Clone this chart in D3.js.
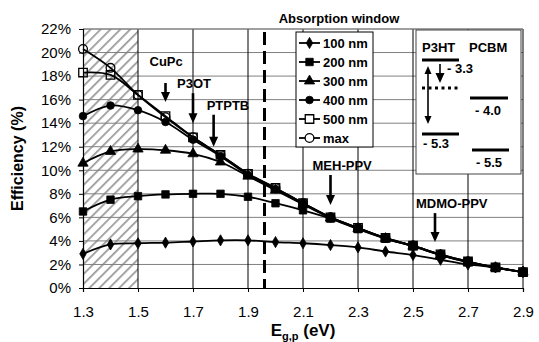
<!DOCTYPE html>
<html>
<head>
<meta charset="utf-8">
<script src="https://cdn.jsdelivr.net/npm/d3@7"></script>
<style>
  body { margin: 0; background: #fff; }
  svg { display: block; font-family: Arial, "Liberation Sans", sans-serif; }
</style>
</head>
<body>
<svg id="chart" width="539" height="342"></svg>
<script>
// band gap of the donor polymer (eV)
const gaps = [1.3, 1.4, 1.5, 1.6, 1.7, 1.8, 1.9, 2.0, 2.1, 2.2, 2.3, 2.4, 2.5, 2.6, 2.7, 2.8, 2.9];

const seriesNames = ["100 nm", "200 nm", "300 nm", "400 nm", "500 nm", "max"];

// efficiency (%) per absorption window
const eff100 = [2.9, 3.7, 3.8, 3.85, 3.95, 4.05, 4.05, 3.9, 3.8, 3.65, 3.45, 3.1, 2.8, 2.4, 2.0, 1.75, 1.35];
const eff200 = [6.5, 7.5, 7.8, 7.95, 8.0, 8.0, 7.75, 7.2, 6.6, 5.9, 5.0, 4.2, 3.55, 2.8, 2.2, 1.72, 1.35];
const eff300 = [10.6, 11.6, 11.8, 11.7, 11.4, 10.7, 9.5, 8.3, 7.1, 5.95, 5.05, 4.2, 3.55, 2.8, 2.2, 1.72, 1.35];
const eff400 = [14.6, 15.5, 15.1, 14.1, 12.6, 11.2, 9.6, 8.4, 7.2, 6.0, 5.1, 4.22, 3.57, 2.82, 2.22, 1.75, 1.35];
const eff500 = [18.3, 18.1, 16.4, 14.6, 12.8, 11.3, 9.7, 8.5, 7.2, 6.0, 5.1, 4.25, 3.6, 2.85, 2.25, 1.75, 1.35];
const effMax = [20.3, 18.7, 16.4, 14.5, 12.8, 11.3, 9.7, 8.5, 7.2, 6.0, 5.1, 4.25, 3.6, 2.85, 2.25, 1.75, 1.35];

const yTicks = [0, 2, 4, 6, 8, 10, 12, 14, 16, 18, 20, 22];
const xTicks = [1.3, 1.5, 1.7, 1.9, 2.1, 2.3, 2.5, 2.7, 2.9];

// known polymers: name, band gap, arrow tip (%)
const polyNames = ["CuPc", "P3OT", "PTPTB", "MEH-PPV", "MDMO-PPV"];
const polyGaps = [1.6, 1.7, 1.775, 2.2, 2.58];
const polyTips = [15.8, 14.0, 12.0, 7.05, 3.9];

const hatchRange = [1.3, 1.5];
const windowGap = 1.96;

const svg = d3.select("#chart");
const margin = { left: 83, right: 16, top: 29, bottom: 54 };
const width = 539 - margin.left - margin.right;
const height = 342 - margin.top - margin.bottom;

const x = d3.scaleLinear().domain([1.3, 2.9]).range([margin.left, margin.left + width]);
const y = d3.scaleLinear().domain([0, 22]).range([margin.top + height, margin.top]);

// hatch pattern for the shaded region
const defs = svg.append("defs");
defs.append("pattern")
  .attr("id", "hatch")
  .attr("width", 7)
  .attr("height", 7)
  .attr("patternUnits", "userSpaceOnUse")
  .attr("patternTransform", "rotate(45)")
  .append("line")
  .attr("x1", 0).attr("y1", 0).attr("x2", 0).attr("y2", 7)
  .attr("stroke", "#9a9a9a")
  .attr("stroke-width", 3.5);

svg.append("rect")
  .attr("x", x(hatchRange[0])).attr("y", y(22))
  .attr("width", x(hatchRange[1]) - x(hatchRange[0]))
  .attr("height", y(0) - y(22))
  .attr("fill", "url(#hatch)");

// gridlines
svg.append("g").selectAll("line").data(yTicks.filter((d) => d > 0)).join("line")
  .attr("x1", x(1.3)).attr("x2", x(2.9))
  .attr("y1", (d) => y(d)).attr("y2", (d) => y(d))
  .attr("stroke", "#808080").attr("stroke-width", 1);

svg.append("g").selectAll("line").data(xTicks.slice(1)).join("line")
  .attr("x1", (d) => x(d)).attr("x2", (d) => x(d))
  .attr("y1", y(0)).attr("y2", y(22))
  .attr("stroke", "#000").attr("stroke-width", 1);

// plot frame top
svg.append("line").attr("x1", x(1.3)).attr("x2", x(2.9)).attr("y1", y(22)).attr("y2", y(22))
  .attr("stroke", "#808080");

// axes
const yAxis = svg.append("g")
  .attr("transform", `translate(${x(1.3)},0)`)
  .call(d3.axisLeft(y).tickValues(yTicks).tickFormat((d) => d + "%").tickSize(4).tickPadding(8));
const xAxis = svg.append("g")
  .attr("transform", `translate(0,${y(0)})`)
  .call(d3.axisBottom(x).tickValues(xTicks).tickFormat(d3.format(".1f")).tickSize(4).tickPadding(14));
[yAxis, xAxis].forEach((a) => {
  a.selectAll("text").attr("font-size", 15).attr("fill", "#000")
    .attr("font-family", "Arial, 'Liberation Sans', sans-serif");
  a.selectAll("line").attr("stroke", "#000");
  a.select(".domain").attr("stroke", "#000").attr("stroke-width", 1.2);
});

// absorption window dashed line
svg.append("line")
  .attr("x1", x(windowGap)).attr("x2", x(windowGap))
  .attr("y1", y(22) + 3).attr("y2", y(0))
  .attr("stroke", "#000").attr("stroke-width", 3)
  .attr("stroke-dasharray", "13,6");

svg.append("text")
  .attr("x", 339).attr("y", 23)
  .attr("text-anchor", "middle")
  .attr("font-size", 13).attr("font-weight", "bold")
  .text("Absorption window");

// series
const seriesData = [eff100, eff200, eff300, eff400, eff500, effMax];
const markers = [
  { type: d3.symbolDiamond, size: 36, fill: "#000" },
  { type: d3.symbolSquare, size: 56, fill: "#000" },
  { type: d3.symbolTriangle, size: 46, fill: "#000" },
  { type: d3.symbolCircle, size: 46, fill: "#000" },
  { type: d3.symbolSquare, size: 72, fill: "none" },
  { type: d3.symbolCircle, size: 60, fill: "none" },
];

const line = d3.line()
  .x((d, i) => x(gaps[i]))
  .y((d) => y(d))
  .curve(d3.curveCatmullRom.alpha(0.5));

const seriesG = svg.append("g");
seriesData.forEach((vals, k) => {
  const g = seriesG.append("g");
  g.append("path")
    .attr("d", line(vals))
    .attr("fill", "none")
    .attr("stroke", "#000")
    .attr("stroke-width", 1.8);
  const m = markers[k];
  g.selectAll("path.mk").data(vals).join("path")
    .attr("class", "mk")
    .attr("transform", (d, i) => `translate(${x(gaps[i])},${y(d)})`)
    .attr("d", d3.symbol().type(m.type).size(m.size))
    .attr("fill", m.fill === "none" ? "#fff" : m.fill)
    .attr("fill-opacity", m.fill === "none" ? 0 : 1)
    .attr("stroke", "#000")
    .attr("stroke-width", m.fill === "none" ? 1.3 : 0.8);
});

// polymer arrows
function arrow(g, xp, y0, y1, w) {
  g.append("line").attr("x1", xp).attr("x2", xp).attr("y1", y0).attr("y2", y1 - 8)
    .attr("stroke", "#000").attr("stroke-width", w);
  g.append("path")
    .attr("d", `M${xp - 4.5},${y1 - 10}L${xp + 4.5},${y1 - 10}L${xp},${y1}Z`)
    .attr("fill", "#000");
}

const labelOffsets = [
  { dx: -16, len: 19 },
  { dx: -16, len: 30 },
  { dx: -7, len: 32 },
  { dx: -18, len: 30 },
  { dx: -19, len: 29 },
];
const annoG = svg.append("g");
polyNames.forEach((name, i) => {
  const xp = x(polyGaps[i]);
  const tip = y(polyTips[i]);
  const top = tip - labelOffsets[i].len;
  arrow(annoG, xp, top, tip, 2.6);
  annoG.append("text")
    .attr("x", xp + labelOffsets[i].dx)
    .attr("y", top - (i === 0 ? 17 : 5))
    .attr("font-size", 13).attr("font-weight", "bold")
    .text(name);
});

// legend
const legend = svg.append("g").attr("transform", "translate(296,32)");
legend.append("rect")
  .attr("width", 77).attr("height", 115)
  .attr("fill", "#fff").attr("stroke", "#000").attr("stroke-width", 1);
seriesNames.forEach((name, k) => {
  const cy = 11 + k * 19;
  legend.append("line").attr("x1", 3).attr("x2", 24).attr("y1", cy).attr("y2", cy)
    .attr("stroke", "#000").attr("stroke-width", 1.8);
  const m = markers[k];
  legend.append("path")
    .attr("transform", `translate(13.5,${cy})`)
    .attr("d", d3.symbol().type(m.type).size(m.size))
    .attr("fill", m.fill === "none" ? "#fff" : m.fill)
    .attr("stroke", "#000").attr("stroke-width", m.fill === "none" ? 1.3 : 0.8);
  legend.append("text")
    .attr("x", 27).attr("y", cy + 4.5)
    .attr("font-size", 13).attr("font-weight", "bold")
    .text(name);
});

// energy level inset
const inset = svg.append("g");
inset.append("rect")
  .attr("x", 416).attr("y", 30).attr("width", 105).attr("height", 144)
  .attr("fill", "#fff").attr("stroke", "#444").attr("stroke-width", 1);
const bold13 = (t, xp, yp) => inset.append("text").attr("x", xp).attr("y", yp)
  .attr("font-size", 13).attr("font-weight", "bold").text(t);
bold13("P3HT", 422, 52);
bold13("PCBM", 469, 52);
const bar = (x1, x2, yp, dash) => inset.append("line")
  .attr("x1", x1).attr("x2", x2).attr("y1", yp).attr("y2", yp)
  .attr("stroke", "#000").attr("stroke-width", 3)
  .attr("stroke-dasharray", dash || null);
bar(422, 459, 60);
bar(422, 460, 88, "3,3.5");
bar(422, 459, 134);
bar(470, 508, 98);
bar(472, 509, 150);
bold13("- 3.3", 447, 73);
bold13("- 5.3", 423, 148);
bold13("- 4.0", 475, 115);
bold13("- 5.5", 476, 167);
arrow(inset, 440, 64, 83, 1.6);
// double headed arrow
inset.append("line").attr("x1", 428).attr("x2", 428).attr("y1", 72).attr("y2", 118)
  .attr("stroke", "#000").attr("stroke-width", 1.6);
inset.append("path").attr("d", "M424.5,74L431.5,74L428,66Z").attr("fill", "#000");
inset.append("path").attr("d", "M424.5,116L431.5,116L428,124Z").attr("fill", "#000");

// axis titles
const xt = svg.append("text")
  .attr("x", 303).attr("y", 336)
  .attr("text-anchor", "middle")
  .attr("font-size", 17).attr("font-weight", "bold");
xt.append("tspan").text("E");
xt.append("tspan").attr("font-size", 11).attr("dy", 4).text("g,p");
xt.append("tspan").attr("dy", -4).text(" (eV)");

svg.append("text")
  .attr("transform", `translate(23,${(y(0) + y(22)) / 2}) rotate(-90)`)
  .attr("text-anchor", "middle")
  .attr("font-size", 16).attr("font-weight", "bold")
  .text("Efficiency (%)");
</script>
</body>
</html>
